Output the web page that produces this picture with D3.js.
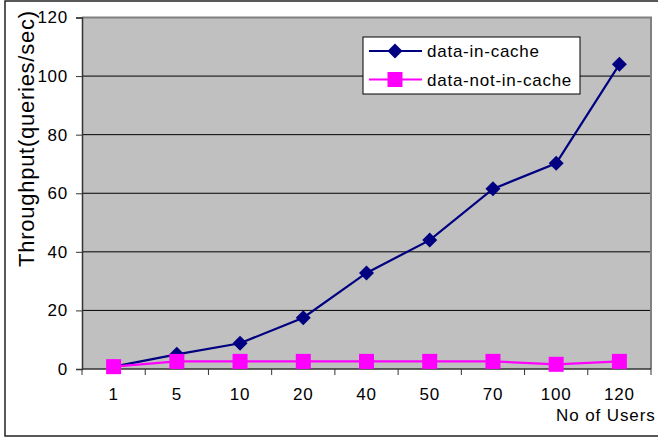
<!DOCTYPE html>
<html>
<head>
<meta charset="utf-8">
<script src="https://cdn.jsdelivr.net/npm/d3@7"></script>
<style>
  html, body { margin: 0; padding: 0; background: #fff; }
  svg { display: block; font-family: "Liberation Sans", Arial, sans-serif; }
</style>
</head>
<body>
<svg id="chart" width="658" height="438"></svg>
<script>
// Throughput vs. number of concurrent users
const users = ["1", "5", "10", "20", "40", "50", "70", "100", "120"];
const dataInCache = [0.8, 5.0, 8.8, 17.5, 32.8, 44.0, 61.5, 70.2, 104.0];
const dataNotInCache = [0.8, 2.6, 2.6, 2.6, 2.6, 2.6, 2.6, 1.6, 2.6];
const yTicks = [0, 20, 40, 60, 80, 100, 120];
const seriesNames = ["data-in-cache", "data-not-in-cache"];

const svg = d3.select("#chart");
const W = 658, H = 438;
const plot = { left: 82, right: 651, top: 17.5, bottom: 369 };

const x = d3.scaleBand().domain(users).range([plot.left, plot.right]).padding(0);
const y = d3.scaleLinear().domain([0, 120]).range([plot.bottom, plot.top]);

// outer frame
svg.append("rect")
  .attr("x", 5).attr("y", 1).attr("width", W + 10).attr("height", 435)
  .attr("fill", "#fff").attr("stroke", "#222").attr("stroke-width", 1.5);

// plot background
svg.append("rect")
  .attr("x", plot.left).attr("y", plot.top)
  .attr("width", plot.right - plot.left).attr("height", plot.bottom - plot.top)
  .attr("fill", "#c0c0c0");

// horizontal gridlines
svg.append("g")
  .selectAll("line")
  .data(yTicks.filter(t => t > 0 && t < 120))
  .join("line")
  .attr("x1", plot.left).attr("x2", plot.right)
  .attr("y1", d => y(d)).attr("y2", d => y(d))
  .attr("stroke", "#000").attr("stroke-width", 1);

// plot border on top and right
svg.append("path")
  .attr("d", `M${plot.left},${plot.top}H${plot.right}V${plot.bottom}`)
  .attr("fill", "none").attr("stroke", "#808080").attr("stroke-width", 2);

// y axis
const yAxis = svg.append("g")
  .attr("transform", `translate(${plot.left},0)`)
  .call(d3.axisLeft(y).tickValues(yTicks).tickSize(6).tickPadding(8));
yAxis.select(".domain").attr("stroke", "#333").attr("stroke-width", 1.5);
yAxis.selectAll(".tick line").attr("stroke", "#333");
yAxis.selectAll(".tick text")
  .attr("font-size", 17).attr("fill", "#000")
  .attr("font-family", "'Liberation Sans', Arial, sans-serif")
  .style("letter-spacing", "0.75px");

// x axis: labels centred on categories, ticks on category boundaries
const xAxis = svg.append("g")
  .attr("transform", `translate(0,${plot.bottom})`)
  .call(d3.axisBottom(x).tickSize(0).tickPadding(19));
xAxis.select(".domain").remove();
xAxis.selectAll(".tick text")
  .attr("font-size", 17).attr("fill", "#000")
  .attr("font-family", "'Liberation Sans', Arial, sans-serif")
  .style("letter-spacing", "0.75px");
xAxis.append("line")
  .attr("x1", plot.left).attr("x2", plot.right)
  .attr("y1", 0).attr("y2", 0)
  .attr("stroke", "#333").attr("stroke-width", 1.5);
xAxis.selectAll("line.bound")
  .data(d3.range(users.length + 1))
  .join("line").attr("class", "bound")
  .attr("x1", i => plot.left + i * x.step())
  .attr("x2", i => plot.left + i * x.step())
  .attr("y1", 0).attr("y2", 6)
  .attr("stroke", "#333").attr("stroke-width", 1);

// axis titles
svg.append("text")
  .attr("transform", `translate(34,${(11 + 267) / 2}) rotate(-90)`)
  .attr("text-anchor", "middle")
  .attr("font-size", 22)
  .attr("textLength", 256).attr("lengthAdjust", "spacing")
  .text("Throughput(queries/sec)");

svg.append("text")
  .attr("x", 556).attr("y", 421)
  .attr("font-size", 17)
  .style("letter-spacing", "0.9px")
  .text("No of Users");

// series
const line = d3.line()
  .x((d, i) => x(users[i]) + x.bandwidth() / 2)
  .y(d => y(d));

const blue = "#000080", pink = "#ff00ff";

function diamondPath(cx, cy, r) {
  return `M${cx},${cy - r}L${cx + r},${cy}L${cx},${cy + r}L${cx - r},${cy}Z`;
}

svg.append("path").datum(dataInCache)
  .attr("d", line).attr("fill", "none")
  .attr("stroke", blue).attr("stroke-width", 2.2);
svg.append("g").selectAll("path")
  .data(dataInCache)
  .join("path")
  .attr("d", (d, i) => diamondPath(x(users[i]) + x.bandwidth() / 2, y(d), 7.5))
  .attr("fill", blue);

svg.append("path").datum(dataNotInCache)
  .attr("d", line).attr("fill", "none")
  .attr("stroke", pink).attr("stroke-width", 2.2);
const sq = 15;
svg.append("g").selectAll("rect")
  .data(dataNotInCache)
  .join("rect")
  .attr("x", (d, i) => x(users[i]) + x.bandwidth() / 2 - sq / 2)
  .attr("y", d => y(d) - sq / 2)
  .attr("width", sq).attr("height", sq)
  .attr("fill", pink);

// legend
const lg = svg.append("g");
lg.append("rect")
  .attr("x", 363).attr("y", 37).attr("width", 217).attr("height", 57)
  .attr("fill", "#fff").attr("stroke", "#000").attr("stroke-width", 1);
const rows = lg.selectAll("g.row")
  .data(seriesNames)
  .join("g").attr("class", "row")
  .attr("transform", (d, i) => `translate(0,${51 + i * 28.5})`);
rows.append("line")
  .attr("x1", 369).attr("x2", 422).attr("y1", 0).attr("y2", 0)
  .attr("stroke", (d, i) => i === 0 ? blue : pink).attr("stroke-width", 2.2);
rows.each(function (d, i) {
  const g = d3.select(this);
  if (i === 0) {
    g.append("path").attr("d", diamondPath(395, 0, 7.5)).attr("fill", blue);
  } else {
    g.append("rect").attr("x", 395 - sq / 2).attr("y", -sq / 2)
      .attr("width", sq).attr("height", sq).attr("fill", pink);
  }
});
rows.append("text")
  .attr("x", 427).attr("y", 0).attr("dy", "0.36em")
  .attr("font-size", 17)
  .style("letter-spacing", "0.75px")
  .text(d => d);
</script>
</body>
</html>
